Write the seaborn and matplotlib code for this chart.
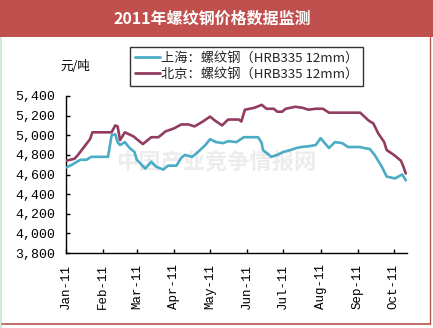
import matplotlib
matplotlib.use("Agg")
import matplotlib.pyplot as plt
import matplotlib.dates as mdates
from matplotlib.patches import Rectangle
from matplotlib.lines import Line2D
import pandas as pd
import seaborn as sns

# Rebar (HRB335 12mm) prices, yuan/ton
sh_dates = ["2011-01-01", "2011-01-06", "2011-01-13", "2011-01-18", "2011-01-22",
            "2011-02-05", "2011-02-08", "2011-02-11", "2011-02-13", "2011-02-15",
            "2011-02-19", "2011-02-23", "2011-02-27", "2011-03-01", "2011-03-08",
            "2011-03-13", "2011-03-17", "2011-03-23", "2011-03-27", "2011-04-03",
            "2011-04-07", "2011-04-10", "2011-04-16", "2011-04-21", "2011-04-27",
            "2011-05-01", "2011-05-06", "2011-05-12", "2011-05-16", "2011-05-23",
            "2011-05-29", "2011-06-10", "2011-06-13", "2011-06-14", "2011-06-19",
            "2011-06-21", "2011-06-26", "2011-07-01", "2011-07-07", "2011-07-12",
            "2011-07-16", "2011-07-23", "2011-07-28", "2011-08-01", "2011-08-08",
            "2011-08-13", "2011-08-19", "2011-08-24", "2011-09-03", "2011-09-06",
            "2011-09-11", "2011-09-15", "2011-09-21", "2011-09-25", "2011-10-02",
            "2011-10-08", "2011-10-11"]
sh_price = [4670, 4700, 4750, 4750, 4780,
            4780, 5000, 5010, 4930, 4900,
            4930, 4870, 4830, 4750, 4660,
            4730, 4680, 4650, 4690, 4690,
            4770, 4800, 4780, 4830, 4900,
            4960, 4930, 4920, 4940, 4930,
            4980, 4980, 4920, 4850, 4800,
            4780, 4800, 4830, 4850, 4870,
            4880, 4890, 4900, 4970, 4870,
            4930, 4920, 4880, 4880, 4870,
            4860, 4800, 4680, 4580, 4560,
            4600, 4540]

bj_dates = ["2011-01-01", "2011-01-08", "2011-01-11", "2011-01-21", "2011-01-23",
            "2011-02-08", "2011-02-11", "2011-02-13", "2011-02-15", "2011-02-19",
            "2011-02-26", "2011-03-06", "2011-03-13", "2011-03-19", "2011-03-25",
            "2011-04-01", "2011-04-07", "2011-04-13", "2011-04-18", "2011-04-25",
            "2011-05-01", "2011-05-05", "2011-05-11", "2011-05-16", "2011-05-25",
            "2011-05-27", "2011-05-30", "2011-06-07", "2011-06-13", "2011-06-17",
            "2011-06-23", "2011-06-26", "2011-06-30", "2011-07-03", "2011-07-11",
            "2011-07-17", "2011-07-22", "2011-07-28", "2011-08-03", "2011-08-08",
            "2011-09-03", "2011-09-10", "2011-09-14", "2011-09-18", "2011-09-23",
            "2011-09-25", "2011-10-01", "2011-10-07", "2011-10-09", "2011-10-11"]
bj_price = [4740, 4760, 4800, 4960, 5030,
            5030, 5100, 5090, 4950, 5030,
            4990, 4910, 4980, 4980, 5040,
            5070, 5110, 5110, 5090, 5140,
            5190, 5150, 5100, 5160, 5160,
            5140, 5260, 5280, 5310, 5270,
            5270, 5240, 5240, 5270, 5290,
            5280, 5260, 5270, 5270, 5230,
            5230, 5150, 5120, 5020, 4930,
            4850, 4800, 4740, 4680, 4610]

series_names = ["上海：螺纹钢（HRB335 12mm）", "北京：螺纹钢（HRB335 12mm）"]
series_colors = ["#4BACC6", "#923C62"]

y_ticks = [3800, 4000, 4200, 4400, 4600, 4800, 5000, 5200, 5400]

df = pd.concat([
    pd.DataFrame({"date": pd.to_datetime(sh_dates), "price": sh_price, "city": series_names[0]}),
    pd.DataFrame({"date": pd.to_datetime(bj_dates), "price": bj_price, "city": series_names[1]}),
], ignore_index=True)

sns.set_theme(style="white")
cjk = ["Noto Sans CJK SC", "DejaVu Sans"]
plt.rcParams["font.family"] = cjk

W, H = 433, 328
fig = plt.figure(figsize=(W / 100, H / 100), dpi=100)
fig.patch.set_facecolor("white")

# title band and frame
fig.add_artist(Rectangle((0, 1 - 37 / H), 1, 37 / H, transform=fig.transFigure,
                         facecolor="#C0504D", edgecolor="none", zorder=0))
fig.text(212 / W, 1 - 19 / H, "2011年螺纹钢价格数据监测", color="white",
         fontsize=11.5, fontweight="bold", ha="center", va="center", family=cjk)
fig.add_artist(Rectangle((0, 0), 2 / W, 1 - 37 / H, transform=fig.transFigure,
                         facecolor="#D5EAD5", edgecolor="none", zorder=0))
fig.add_artist(Line2D([429.5 / W, 429.5 / W], [1 - 324 / H, 1 - 37 / H],
                      transform=fig.transFigure, color="#B85450", lw=1.0))
fig.add_artist(Line2D([2 / W, 430 / W], [1 - 323.5 / H, 1 - 323.5 / H],
                      transform=fig.transFigure, color="#B85450", lw=1.2))

ax = fig.add_axes([66 / W, 1 - 253 / H, (407 - 66) / W, (253 - 96) / H])
ax.set_facecolor("white")

# faint watermark
ax.text(0.44, 0.57, "中国产业竞争情报网", transform=ax.transAxes, fontsize=16,
        fontweight="bold", color="#ECECEC", ha="center", va="center", zorder=0,
        family=cjk)

sns.lineplot(data=df, x="date", y="price", hue="city", hue_order=series_names,
             palette=series_colors, linewidth=1.9, ax=ax, legend=False, zorder=3)

ax.set_xlim(pd.Timestamp("2011-01-01"), pd.Timestamp("2011-10-12"))
ax.set_ylim(3800, 5400)
ax.set_yticks(y_ticks)
ax.set_yticklabels([f"{v:,}" for v in y_ticks], family="Liberation Mono", fontsize=9.5)
ax.xaxis.set_major_locator(mdates.MonthLocator())
ax.xaxis.set_major_formatter(mdates.DateFormatter("%b-%y"))
for lab in ax.get_xticklabels():
    lab.set_rotation(90)
    lab.set_family("Liberation Mono")
    lab.set_fontsize(9)
ax.set_xlabel("")
ax.set_ylabel("")
for s in ["top", "right"]:
    ax.spines[s].set_visible(False)
for s in ["left", "bottom"]:
    ax.spines[s].set_color("black")
    ax.spines[s].set_linewidth(1.0)
ax.tick_params(axis="both", direction="in", length=3, width=1, color="black",
               left=True, bottom=True, labelcolor="black")
ax.tick_params(axis="y", pad=8)
ax.tick_params(axis="x", pad=8)

fig.text(75 / W, 1 - 66 / H, "元/吨", fontsize=9, ha="center", va="center",
         color="black", family=cjk)

handles = [Line2D([], [], color=c, lw=2.0) for c in series_colors]
leg = fig.legend(handles, series_names, loc="upper left",
                 bbox_to_anchor=(130 / W, 1 - 47 / H), frameon=True,
                 fancybox=False, edgecolor="black", fontsize=9.5,
                 handlelength=1.9, handletextpad=0.1, borderpad=0.35,
                 labelspacing=0.25, borderaxespad=0)
leg.get_frame().set_linewidth(1.0)
for t in leg.get_texts():
    t.set_family(cjk)

fig.savefig("out.png", dpi=100)
